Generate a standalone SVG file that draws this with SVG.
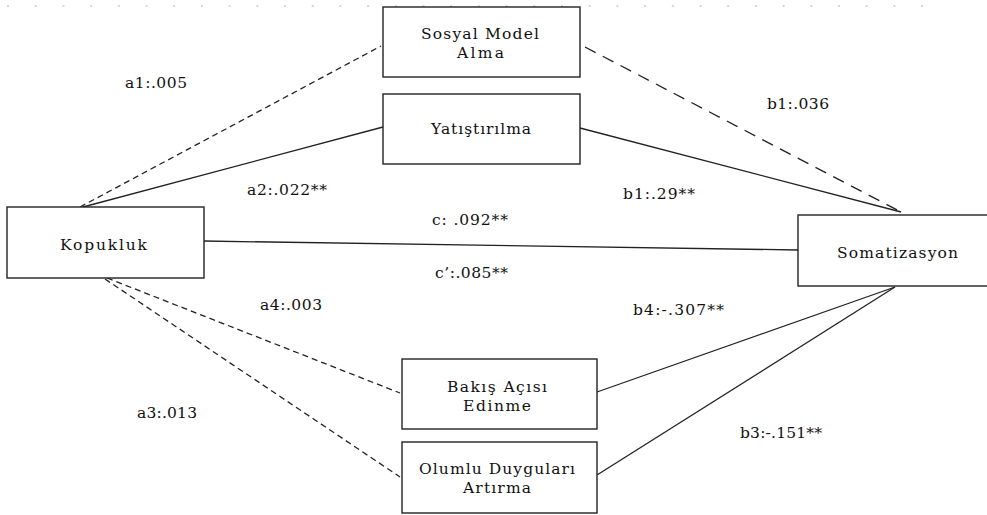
<svg xmlns="http://www.w3.org/2000/svg" width="987" height="515" viewBox="0 0 987 515">
<style>
.box{fill:#fff;stroke:#222;stroke-width:1.4}
.t{font-family:"DejaVu Serif","Liberation Serif",serif;font-size:15.5px;fill:#111}
.l{font-family:"DejaVu Serif","Liberation Serif",serif;font-size:15.5px;fill:#111}
.solid{stroke:#222;stroke-width:1.3;fill:none}
.dash{stroke:#222;stroke-width:1.3;fill:none;stroke-dasharray:6 4}
.dashlong{stroke:#222;stroke-width:1.3;fill:none;stroke-dasharray:12 8}
</style>
<rect width="987" height="515" fill="#fff"/>
<line x1="7" y1="6" x2="934" y2="6" stroke="#aaa" stroke-width="1" stroke-dasharray="2 25.7"/>
<g id="connectors">
<line class="dash" x1="80" y1="207" x2="381" y2="46"/>
<line class="solid" x1="83" y1="207" x2="383" y2="127"/>
<line class="dashlong" x1="585" y1="47" x2="903" y2="213"/>
<line class="solid" x1="580" y1="128" x2="901" y2="212"/>
<line class="solid" x1="204" y1="241" x2="798" y2="250"/>
<line class="dash" x1="107" y1="278" x2="400" y2="393"/>
<line class="dash" x1="105" y1="279" x2="400" y2="477"/>
<line class="solid" x1="597" y1="392" x2="895" y2="287"/>
<line class="solid" x1="597" y1="475" x2="895" y2="287"/>
</g>
<g id="labels">
<text class="l" x="125" y="88" textLength="62" lengthAdjust="spacing">a1:.005</text>
<text class="l" x="767" y="109" textLength="62" lengthAdjust="spacing">b1:.036</text>
<text class="l" x="247" y="195" textLength="80" lengthAdjust="spacing">a2:.022**</text>
<text class="l" x="623" y="199" textLength="72" lengthAdjust="spacing">b1:.29**</text>
<text class="l" x="432" y="225" textLength="76" lengthAdjust="spacing">c: .092**</text>
<text class="l" x="435" y="278" textLength="73" lengthAdjust="spacing">c’:.085**</text>
<text class="l" x="260" y="310" textLength="62" lengthAdjust="spacing">a4:.003</text>
<text class="l" x="633" y="315" textLength="91" lengthAdjust="spacing">b4:-.307**</text>
<text class="l" x="137" y="418" textLength="60" lengthAdjust="spacing">a3:.013</text>
<text class="l" x="740" y="438" textLength="82" lengthAdjust="spacing">b3:-.151**</text>
</g>
<g id="sosyal">
<rect class="box" x="383" y="7" width="197" height="70"/>
<text class="t" x="421" y="39" textLength="118" lengthAdjust="spacing">Sosyal Model</text>
<text class="t" x="457" y="58" textLength="47" lengthAdjust="spacing">Alma</text>
</g>
<g id="yatistirilma">
<rect class="box" x="383" y="94" width="197" height="70"/>
<text class="t" x="431" y="134" textLength="100" lengthAdjust="spacing">Yatıştırılma</text>
</g>
<g id="kopukluk">
<rect class="box" x="7" y="207" width="197" height="71"/>
<text class="t" x="60" y="250" textLength="87" lengthAdjust="spacing">Kopukluk</text>
</g>
<g id="somatizasyon">
<rect class="box" x="798" y="215" width="200" height="71"/>
<text class="t" x="837" y="258" textLength="121" lengthAdjust="spacing">Somatizasyon</text>
</g>
<g id="bakis">
<rect class="box" x="402" y="359" width="195" height="70"/>
<text class="t" x="447" y="392" textLength="100" lengthAdjust="spacing">Bakış Açısı</text>
<text class="t" x="463" y="411" textLength="68" lengthAdjust="spacing">Edinme</text>
</g>
<g id="olumlu">
<rect class="box" x="402" y="442" width="195" height="71"/>
<text class="t" x="419" y="474" textLength="156" lengthAdjust="spacing">Olumlu Duyguları</text>
<text class="t" x="463" y="493" textLength="68" lengthAdjust="spacing">Artırma</text>
</g>
</svg>
